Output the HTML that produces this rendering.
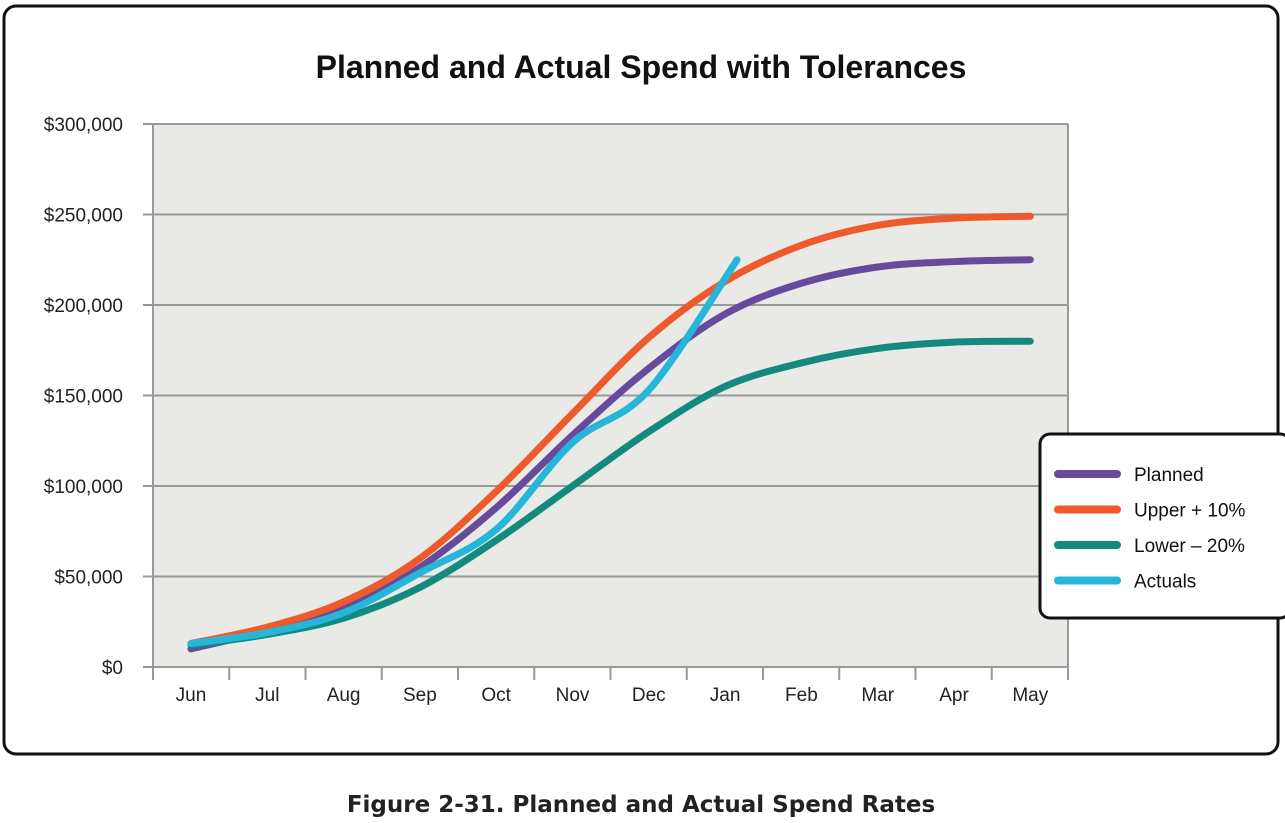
<!DOCTYPE html>
<html><head><meta charset="utf-8"><style>
body{margin:0;background:#fff;width:1285px;height:823px;overflow:hidden;font-family:"Liberation Sans",sans-serif}
svg{position:absolute;left:0;top:0}
</style></head><body>
<svg width="1285" height="823" id="c">
<rect x="4" y="6" width="1274" height="748" rx="12" fill="#fff" stroke="#111" stroke-width="3"/>
<text x="641" y="78" text-anchor="middle" font-size="32" font-weight="bold" fill="#111">Planned and Actual Spend with Tolerances</text>
<rect x="153" y="124" width="915" height="543" fill="#e9e9e5"/>
<g id="grid"></g><g id="ax"></g><g id="series"></g>
<g>
<rect x="1040" y="434" width="250" height="184" rx="10" fill="#fff" stroke="#111" stroke-width="3"/>
<g id="leg"></g></g>
<text x="641" y="812" text-anchor="middle" font-size="23" font-weight="bold" fill="#222" font-family="'DejaVu Sans',sans-serif">Figure 2-31. Planned and Actual Spend Rates</text>
</svg>
<script>
const months=["Jun","Jul","Aug","Sep","Oct","Nov","Dec","Jan","Feb","Mar","Apr","May"];
const yTicks=[0,50000,100000,150000,200000,250000,300000];
const planned=[10000,20000,32000,55000,88000,128000,165000,195000,212000,221000,224000,225000];
const upper=[13000,22000,36000,60000,97000,140000,182000,213000,233000,244000,248000,249000];
const lower=[12000,18000,27000,44000,70000,100000,130000,155000,168000,176000,179500,180000];
const actuals=[13000,19000,30000,52000,76000,124000,153000,225000];
const seriesNames=["Planned","Upper + 10%","Lower \u2013 20%","Actuals"];
const NS="http://www.w3.org/2000/svg";
const x=i=>191+i*76.3;
const y=v=>667-v/300000*543;
function mk(t,a,p){const e=document.createElementNS(NS,t);for(const k in a)e.setAttribute(k,a[k]);p.appendChild(e);return e;}
const grid=document.getElementById('grid'),ax=document.getElementById('ax'),ser=document.getElementById('series'),leg=document.getElementById('leg');
yTicks.forEach(v=>{
 const l=mk('line',{x1:143,x2:1068,y1:y(v),y2:y(v),stroke:'#999','stroke-width':2},grid);
 
 
 const t=mk('text',{x:123,y:y(v)+7,'text-anchor':'end','font-size':19,fill:'#222'},ax);
 t.textContent='$'+v.toLocaleString('en-US');
 
 
});
mk('line',{x1:153,x2:153,y1:124,y2:667,stroke:'#999','stroke-width':2},ax);
mk('line',{x1:1068,x2:1068,y1:124,y2:667,stroke:'#999','stroke-width':2},ax);
for(let i=0;i<=months.length;i++){mk('line',{x1:153+i*76.25,x2:153+i*76.25,y1:667,y2:680,stroke:'#999','stroke-width':2},ax);}
months.forEach((m,i)=>{
 const t=mk('text',{x:x(i),y:701,'text-anchor':'middle','font-size':19,fill:'#222'},ax);
 t.textContent=m;
 
 
});
function path(d,last){const p=d.map((v,i)=>[x(i),y(v)]);if(last)p[p.length-1][0]+=last;let s='M'+p[0][0]+','+p[0][1];
 for(let i=0;i<p.length-1;i++){const p0=p[i-1]||p[i],p1=p[i],p2=p[i+1],p3=p[i+2]||p2;
 s+=' C'+(p1[0]+(p2[0]-p0[0])/6)+','+(p1[1]+(p2[1]-p0[1])/6)+' '+(p2[0]-(p3[0]-p1[0])/6)+','+(p2[1]-(p3[1]-p1[1])/6)+' '+p2[0]+','+p2[1];}
 return s;}
const data=[planned,upper,lower,actuals],cols=['#664b9c','#ee5a2c','#148a7e','#25b6d9'],names=['planned-line','upper-line','lower-line','actuals-line'];
data.forEach((d,k)=>{
 const p=mk('path',{d:path(d,k===3?12:0),fill:'none',stroke:cols[k],'stroke-width':7,'stroke-linecap':'round'},ser);
 
 
 const ly=474+k*35.5;
 mk('line',{x1:1058,x2:1117,y1:ly,y2:ly,stroke:cols[k],'stroke-width':8,'stroke-linecap':'round'},leg);
 const t=mk('text',{x:1134,y:ly+7,'font-size':19,fill:'#111'},leg);
 t.textContent=seriesNames[k];
 
 
});
</script>
</body></html>
